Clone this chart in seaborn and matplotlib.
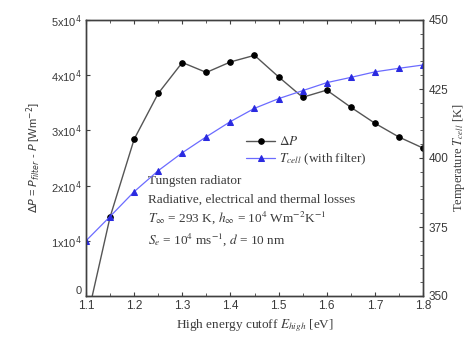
import matplotlib
matplotlib.use("Agg")
import matplotlib.pyplot as plt
import seaborn as sns
import numpy as np
import pandas as pd
from matplotlib.ticker import FixedLocator, FixedFormatter, MultipleLocator

sns.set_style("ticks")
plt.rcParams["font.family"] = ["Liberation Sans", "DejaVu Sans"]

# High energy cutoff [eV]
cutoff = [1.10, 1.15, 1.20, 1.25, 1.30, 1.35, 1.40, 1.45, 1.50, 1.55, 1.60, 1.65, 1.70, 1.75, 1.80]
# Power gain with filter, ΔP [W m^-2]
delta_p = [-5000, 14300, 28400, 36700, 42300, 40500, 42400, 43600, 39700, 36000, 37300, 34200, 31300, 28800, 26800]
# Cell temperature with filter [K]
t_cell = [370.0, 378.8, 387.8, 395.4, 401.9, 407.7, 413.2, 418.0, 421.5, 424.4, 427.3, 429.2, 431.2, 432.5, 433.7]

y_ticks = [0, 10000, 20000, 30000, 40000, 50000]
y_labels = ["0", "1x10$^4$", "2x10$^4$", "3x10$^4$", "4x10$^4$", "5x10$^4$"]
x_ticks = [1.1, 1.2, 1.3, 1.4, 1.5, 1.6, 1.7, 1.8]
t_ticks = [350, 375, 400, 425, 450]

df = pd.DataFrame({"cutoff": cutoff, "dP": delta_p, "T": t_cell})

text_col = "#3a3a3a"
serif = ["Liberation Serif", "DejaVu Serif"]

fig = plt.figure(figsize=(4.71, 3.44), dpi=100)
ax = fig.add_axes([86 / 471, 1 - 296 / 344, 337 / 471, 276 / 344])
ax2 = ax.twinx()

sns.lineplot(data=df, x="cutoff", y="dP", ax=ax, color="#555555", lw=1.0,
             marker="o", markersize=4.0, markerfacecolor="black",
             markeredgecolor="black", legend=False)
sns.lineplot(data=df, x="cutoff", y="T", ax=ax2, color="#6b6bff", lw=0.9,
             marker="^", markersize=3.8, markerfacecolor="#2a2ae0",
             markeredgecolor="#2a2ae0", legend=False)

ax.set_xlim(1.1, 1.8)
ax.set_ylim(0, 50000)
ax2.set_ylim(350, 450)

ax.xaxis.set_major_locator(FixedLocator(x_ticks))
ax.xaxis.set_minor_locator(MultipleLocator(0.05))
ax.yaxis.set_major_locator(FixedLocator(y_ticks))
ax.yaxis.set_major_formatter(FixedFormatter(y_labels))
ax2.yaxis.set_major_locator(FixedLocator(t_ticks))
ax2.yaxis.set_minor_locator(MultipleLocator(5))

for a in (ax, ax2):
    for s in a.spines.values():
        s.set_visible(True)
        s.set_color("#404040")
        s.set_linewidth(1.0)
ax.tick_params(axis="x", which="both", direction="in", top=True, bottom=True,
               labelsize=8.5, colors="#404040", labelcolor=text_col, pad=3)
ax.tick_params(axis="x", which="major", length=3)
ax.tick_params(axis="x", which="minor", length=2)
ax.tick_params(axis="y", which="major", direction="in", length=3,
               labelsize=8, colors="#404040", labelcolor=text_col, pad=3)
ax2.tick_params(axis="y", which="major", direction="in", length=3,
                labelsize=8.5, colors="#404040", labelcolor=text_col, pad=4)
ax2.tick_params(axis="y", which="minor", direction="in", length=2, colors="#404040")

# keep the zero label clear of the x tick labels
fig.canvas.draw()
ax.get_yticklabels()[0].set_verticalalignment("bottom")

ax.set_xlabel(r"High energy cutoff $E_{high}$ [eV]", family=serif, fontsize=9.5,
              color=text_col, math_fontfamily="stix", labelpad=4)
ax.set_ylabel(r"$\Delta P$ = $P_{filter}$ - $P$ [Wm$^{-2}$]", fontsize=8,
              color=text_col, math_fontfamily="dejavusans", labelpad=6)
ax2.set_ylabel(r"Temperature $T_{cell}$ [K]", family=serif, fontsize=9,
               color=text_col, math_fontfamily="stix", labelpad=2)

handles = [ax.get_lines()[0], ax2.get_lines()[0]]
leg = ax.legend(handles, [r"$\Delta P$", r"$T_{cell}$ (with filter)"],
                loc="upper left", bbox_to_anchor=(0.44, 0.625), frameon=False,
                handlelength=2.2, handletextpad=0.3, labelspacing=0.25,
                prop={"family": serif, "size": 9.5, "math_fontfamily": "stix"})
for t in leg.get_texts():
    t.set_color(text_col)

notes = [
    "Tungsten radiator",
    "Radiative, electrical and thermal losses",
    r"$T_\infty$ = 293 K, $h_\infty$ = 10$^4$ Wm$^{-2}$K$^{-1}$",
    r"$S_e$ = 10$^4$ ms$^{-1}$, $d$ = 10 nm",
]
note_y = [0.415, 0.35, 0.282, 0.203]
for txt, yy in zip(notes, note_y):
    ax.text(0.184, yy, txt, transform=ax.transAxes, family=serif, fontsize=9.5,
            color=text_col, va="center", ha="left", math_fontfamily="stix")

fig.savefig("out.png", dpi=100)
